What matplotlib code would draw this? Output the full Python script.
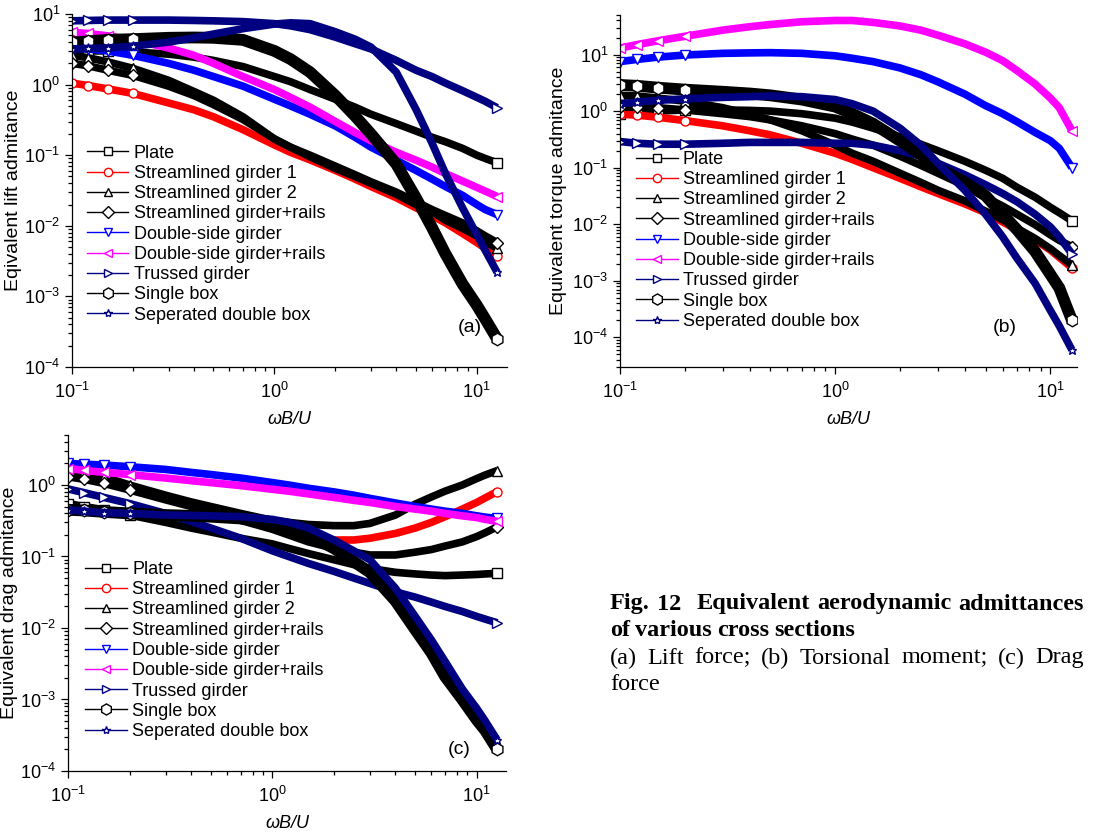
import matplotlib.pyplot as plt
from matplotlib.lines import Line2D

plt.rcParams['font.family'] = ['Liberation Sans', 'DejaVu Sans']
plt.rcParams['mathtext.fontset'] = 'custom'
plt.rcParams['mathtext.rm'] = 'Liberation Sans'
plt.rcParams['mathtext.it'] = 'Liberation Sans:italic'
plt.rcParams['axes.unicode_minus'] = False

# reduced frequency wB/U (common for all curves)
omega = [0.1, 0.12, 0.15, 0.2, 0.3, 0.4, 0.5, 0.7, 1.0, 1.2, 1.5, 2.0, 2.5, 3.0,
         4.0, 5.0, 6.0, 7.0, 8.5, 10.0, 11.0, 12.6]

names = ['Plate', 'Streamlined girder 1', 'Streamlined girder 2', 'Streamlined girder+rails',
         'Double-side girder', 'Double-side girder+rails', 'Trussed girder', 'Single box',
         'Seperated double box']
colors = ['black', 'red', 'black', 'black', 'blue', 'magenta', '#000080', 'black', '#000080']
markers = ['s', 'o', '^', 'D', 'v', '<', '>', 'h', '*']

# (a) lift
lift_plate = [3.0, 3.0, 3.0, 2.9, 2.7, 2.45, 2.2, 1.8, 1.3, 1.1, 0.85, 0.62, 0.48, 0.38,
              0.28, 0.22, 0.18, 0.155, 0.125, 0.1, 0.09, 0.078]
lift_stream1 = [1.05, 0.97, 0.87, 0.75, 0.55, 0.44, 0.35, 0.23, 0.14, 0.11, 0.086, 0.061, 0.046, 0.036,
                0.025, 0.018, 0.014, 0.011, 0.0078, 0.0058, 0.0048, 0.0037]
lift_stream2 = [2.6, 2.4, 2.1, 1.7, 1.15, 0.8, 0.6, 0.35, 0.17, 0.13, 0.095, 0.065, 0.05, 0.04,
                0.028, 0.02, 0.016, 0.012, 0.0092, 0.0072, 0.006, 0.0048]
lift_rails = [2.0, 1.85, 1.6, 1.35, 0.95, 0.7, 0.52, 0.32, 0.17, 0.13, 0.1, 0.07, 0.053, 0.042,
              0.03, 0.022, 0.017, 0.014, 0.011, 0.0085, 0.0072, 0.0058]
lift_dside = [3.3, 3.2, 3.0, 2.6, 2.0, 1.6, 1.3, 0.95, 0.62, 0.5, 0.38, 0.26, 0.18, 0.13,
              0.085, 0.061, 0.046, 0.036, 0.027, 0.02, 0.017, 0.0144]
lift_dside_rails = [5.5, 5.3, 4.9, 4.3, 3.3, 2.6, 2.0, 1.3, 0.85, 0.66, 0.48, 0.3, 0.21, 0.16,
                    0.11, 0.085, 0.068, 0.055, 0.043, 0.035, 0.031, 0.026]
lift_truss = [8.0, 8.1, 8.2, 8.2, 8.2, 8.1, 8.0, 7.8, 7.3, 6.8, 6.0, 4.7, 3.8, 3.2,
              2.2, 1.6, 1.3, 1.05, 0.82, 0.66, 0.58, 0.47]
lift_single = [3.95, 4.1, 4.3, 4.4, 4.6, 4.65, 4.6, 4.3, 3.0, 2.3, 1.5, 0.7, 0.36, 0.2,
               0.075, 0.025, 0.0095, 0.004, 0.0015, 0.00075, 0.00048, 0.00025]
lift_double = [3.2, 3.25, 3.3, 3.5, 4.0, 4.6, 5.2, 6.2, 7.2, 7.5, 7.3, 5.6, 4.4, 3.4,
               1.5, 0.45, 0.15, 0.055, 0.018, 0.0075, 0.0045, 0.0022]

# (b) torque
torque_plate = [0.88, 0.95, 1.0, 1.05, 1.05, 1.03, 1.0, 0.9, 0.75, 0.64, 0.5, 0.35, 0.26, 0.2,
                0.13, 0.09, 0.065, 0.045, 0.03, 0.02, 0.016, 0.0115]
torque_stream1 = [0.88, 0.85, 0.78, 0.68, 0.55, 0.45, 0.38, 0.27, 0.18, 0.14, 0.1, 0.065, 0.046, 0.035,
                  0.023, 0.016, 0.011, 0.008, 0.0053, 0.0035, 0.0026, 0.0017]
torque_stream2 = [1.9, 1.85, 1.7, 1.5, 1.15, 0.88, 0.7, 0.45, 0.25, 0.18, 0.13, 0.08, 0.055, 0.04,
                  0.026, 0.017, 0.012, 0.0085, 0.0056, 0.0037, 0.0028, 0.0019]
torque_rails = [1.2, 1.2, 1.15, 1.05, 0.9, 0.8, 0.7, 0.55, 0.4, 0.32, 0.25, 0.16, 0.11, 0.08,
                0.048, 0.03, 0.021, 0.015, 0.0098, 0.0065, 0.0052, 0.004]
torque_dside = [7.5, 8.2, 9.0, 9.8, 10.5, 10.7, 10.8, 10.5, 9.5, 8.6, 7.5, 5.8, 4.4, 3.3,
                2.0, 1.25, 0.9, 0.65, 0.42, 0.3, 0.22, 0.1]
torque_dside_rails = [13, 15, 17.5, 21, 27, 31, 34, 38, 40, 40, 37, 32, 27, 22,
                      15.5, 11, 7.8, 5.2, 3.0, 1.7, 1.15, 0.45]
torque_truss = [0.29, 0.27, 0.26, 0.26, 0.27, 0.28, 0.28, 0.28, 0.27, 0.27, 0.25, 0.2, 0.16, 0.12,
                0.075, 0.05, 0.035, 0.025, 0.015, 0.009, 0.006, 0.003]
torque_single = [2.9, 2.8, 2.6, 2.4, 2.2, 2.05, 1.9, 1.6, 1.2, 0.9, 0.6, 0.3, 0.17, 0.1,
                 0.055, 0.032, 0.015, 0.008, 0.0033, 0.0013, 0.00075, 0.0002]
torque_double = [1.35, 1.45, 1.55, 1.65, 1.75, 1.8, 1.85, 1.8, 1.6, 1.35, 1.0, 0.5, 0.25, 0.12,
                 0.04, 0.015, 0.006, 0.0025, 0.0009, 0.0003, 0.00016, 0.00006]

# (c) drag
drag_plate = [0.55, 0.5, 0.45, 0.38, 0.3, 0.25, 0.22, 0.18, 0.15, 0.13, 0.11, 0.09, 0.077, 0.068,
              0.06, 0.057, 0.055, 0.054, 0.055, 0.056, 0.057, 0.058]
drag_stream1 = [1.6, 1.4, 1.2, 0.95, 0.7, 0.56, 0.48, 0.37, 0.27, 0.23, 0.2, 0.17, 0.17, 0.18,
                0.21, 0.25, 0.3, 0.36, 0.46, 0.57, 0.66, 0.81]
drag_stream2 = [1.7, 1.5, 1.3, 1.0, 0.72, 0.58, 0.5, 0.4, 0.32, 0.3, 0.28, 0.27, 0.27, 0.29,
                0.38, 0.54, 0.68, 0.82, 1.0, 1.23, 1.38, 1.59]
drag_rails = [1.3, 1.2, 1.05, 0.85, 0.62, 0.5, 0.42, 0.32, 0.24, 0.2, 0.16, 0.13, 0.115, 0.105,
              0.105, 0.115, 0.125, 0.14, 0.16, 0.19, 0.215, 0.26]
drag_dside = [2.0, 1.95, 1.9, 1.8, 1.65, 1.5, 1.4, 1.25, 1.08, 1.0, 0.9, 0.8, 0.72, 0.65,
              0.56, 0.5, 0.46, 0.43, 0.4, 0.37, 0.355, 0.34]
drag_dside_rails = [1.7, 1.6, 1.5, 1.4, 1.25, 1.15, 1.08, 0.98, 0.87, 0.82, 0.75, 0.67, 0.61, 0.57,
                    0.5, 0.46, 0.43, 0.4, 0.37, 0.35, 0.33, 0.31]
drag_truss = [0.88, 0.78, 0.67, 0.55, 0.4, 0.31, 0.25, 0.18, 0.12, 0.1, 0.08, 0.062, 0.05, 0.042,
              0.032, 0.027, 0.023, 0.02, 0.017, 0.0145, 0.0133, 0.0118]
drag_single = [0.45, 0.44, 0.42, 0.4, 0.38, 0.37, 0.36, 0.34, 0.3, 0.26, 0.2, 0.13, 0.085, 0.06,
               0.024, 0.0095, 0.0045, 0.0021, 0.001, 0.00052, 0.00037, 0.0002]
drag_double = [0.45, 0.43, 0.41, 0.4, 0.38, 0.375, 0.37, 0.36, 0.33, 0.3, 0.25, 0.17, 0.12, 0.09,
               0.036, 0.0145, 0.0068, 0.0034, 0.0014, 0.00075, 0.0005, 0.00027]

lift = [lift_plate, lift_stream1, lift_stream2, lift_rails, lift_dside,
        lift_dside_rails, lift_truss, lift_single, lift_double]
torque = [torque_plate, torque_stream1, torque_stream2, torque_rails, torque_dside,
          torque_dside_rails, torque_truss, torque_single, torque_double]
drag = [drag_plate, drag_stream1, drag_stream2, drag_rails, drag_dside,
        drag_dside_rails, drag_truss, drag_single, drag_double]

W, H = 1094, 834


def draw_panel(rect, data, ylabel, tag, tag_xy, ylim, xmax, leg_xy, ylab_x, xlab_y):
    ax = fig.add_axes(rect)
    for vals, c, m in zip(data, colors, markers):
        big = (m == 'h')
        ax.plot(omega, vals, color=c, lw=8.5 if big else 5.5, solid_capstyle='butt',
                solid_joinstyle='round', marker=m, markersize=9 if big else 6.5,
                markerfacecolor='white', markeredgecolor=c, markeredgewidth=1.0,
                markevery=[0, 1, 2, 3, len(omega) - 1])
    ax.set_xscale('log')
    ax.set_yscale('log')
    ax.set_xlim(0.1, xmax)
    ax.set_ylim(*ylim)
    for s in ['top', 'right']:
        ax.spines[s].set_visible(False)
    for s in ['left', 'bottom']:
        ax.spines[s].set_linewidth(0.9)
    ax.tick_params(which='both', direction='out', width=0.9, labelsize=13)
    ax.tick_params(axis='x', which='major', pad=6)
    ax.tick_params(which='major', length=5)
    ax.tick_params(which='minor', length=3)
    ax.set_ylabel(ylabel, fontsize=14)
    ax.yaxis.set_label_coords(ylab_x, 0.5)
    ax.set_xlabel('ωB/U', fontsize=13, style='italic')
    ax.xaxis.set_label_coords(0.5, xlab_y)
    ax.text(tag_xy[0], tag_xy[1], tag, transform=ax.transAxes, fontsize=14,
            ha='center', va='center')

    handles = [Line2D([], [], color=c, marker=m, lw=1.0, markersize=8 if m == 'h' else 6,
                      markerfacecolor='white', markeredgewidth=1.0)
               for c, m in zip(colors, markers)]
    ax.legend(handles, names, loc='upper left', bbox_to_anchor=leg_xy, frameon=False,
              fontsize=13, borderpad=0, borderaxespad=0, labelspacing=0.18,
              handlelength=2.3, handletextpad=0.3)
    return ax


def justify(words, x0, x1, y, last=False, **kw):
    # place words so the line fills x0..x1 (pixels), like a justified paragraph
    r = fig.canvas.get_renderer()
    texts = [fig.text(0, 1 - y / H, w, va='center', **kw) for w in words]
    widths = [t.get_window_extent(r).width for t in texts]
    if last or len(words) == 1:
        gap = texts[0].get_window_extent(r).height * 0.25
    else:
        gap = (x1 - x0 - sum(widths)) / (len(words) - 1)
    x = x0
    for t, w in zip(texts, widths):
        t.set_x(x / W)
        x += w + gap


fig = plt.figure(figsize=(W / 100, H / 100), dpi=100)

draw_panel([72 / W, 1 - 367 / H, 435 / W, 353 / H], lift, 'Eqivalent lift admitance', '(a)',
           (0.915, 0.113), (1e-4, 10), 14.1, (0.034, 0.63), -0.115, -0.125)
draw_panel([620 / W, 1 - 367 / H, 457 / W, 352 / H], torque, 'Equivalent torque admitance', '(b)',
           (0.842, 0.113), (3e-5, 50), 13.3, (0.035, 0.614), -0.115, -0.125)
draw_panel([68 / W, 1 - 771 / H, 438 / W, 336 / H], drag, 'Equivalent drag admitance', '(c)',
           (0.893, 0.0625), (1e-4, 5), 13.9, (0.039, 0.625), -0.115, -0.13)

# caption
cap_bold = dict(family='Liberation Serif', fontsize=17.5, weight='bold')
cap_norm = dict(family='Liberation Serif', fontsize=17.5)
justify('Fig. 12  Equivalent aerodynamic admittances'.split(' '), 610, 1084, 604, **cap_bold)
justify('of various cross sections'.split(' '), 610, 1084, 630, last=True, **cap_bold)
justify('(a) Lift force; (b) Torsional moment; (c) Drag'.split(' '), 610, 1084, 658, **cap_norm)
justify(['force'], 610, 1084, 684, last=True, **cap_norm)

fig.savefig('out.png', dpi=100)
